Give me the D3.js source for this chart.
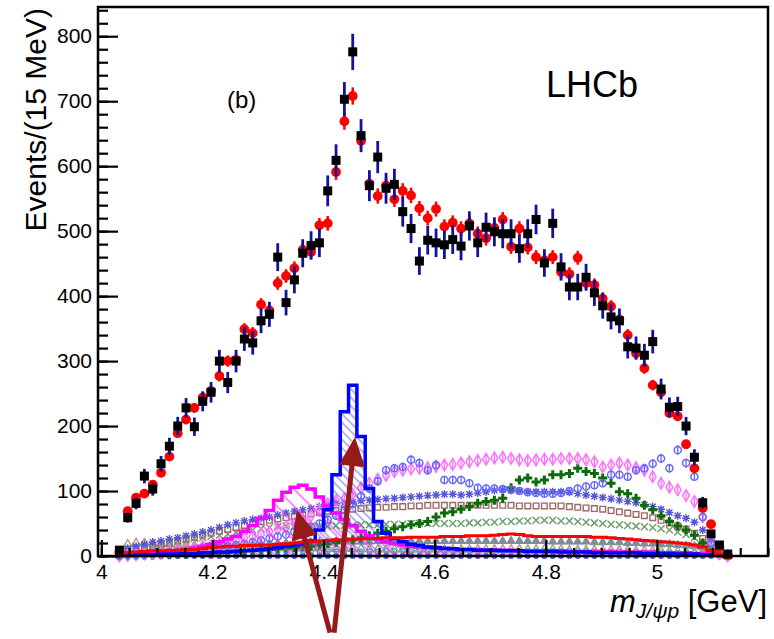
<!DOCTYPE html>
<html>
<head>
<meta charset="utf-8">
<script src="https://cdn.jsdelivr.net/npm/d3@7"></script>
<style>
  body { margin: 0; background: #fff; }
  svg { display: block; font-family: "Liberation Sans", Arial, sans-serif; }
</style>
</head>
<body>
<svg width="774" height="639"></svg>
<script>
// m(J/psi p) in 15 MeV bins, first bin centre 4.0325 GeV
const nBins = 74;
const binCentres = d3.range(nBins).map(k => 4.0325 + 0.015 * k);
const binWidth = 0.015;

const dataCounts = [
  9, 59, 81, 123, 103, 142, 169, 200, 228, 199,
  238, 252, 300, 267, 300, 334, 328, 362, 372, 460,
  390, 425, 466, 478, 482, 562, 609, 703, 776, 647,
  570, 614, 566, 572, 530, 504, 454, 486, 482, 479,
  487, 477, 508, 482, 506, 499, 496, 496, 473, 496,
  518, 451, 512, 445, 414, 414, 429, 405, 385, 368,
  362, 322, 320, 309, 330, 257, 229, 230, 200, 152,
  82, 34, 17, 3
];
const fitCounts = [
  6, 69, 90, 96, 110, 128, 153, 189, 210, 228,
  244, 254, 277, 300, 302, 349, 343, 387, 378, 420,
  431, 443, 471, 468, 509, 512, 591, 669, 708, 639,
  573, 554, 570, 549, 562, 555, 535, 520, 534, 507,
  513, 504, 512, 496, 489, 505, 518, 476, 504, 475,
  460, 455, 460, 437, 434, 459, 420, 417, 396, 384,
  364, 340, 312, 289, 263, 252, 220, 215, 172, 135,
  74, 49, 14, 2
];
const pc4450 = [
  1, 1, 2, 2, 2, 3, 3, 3, 4, 4,
  5, 5, 6, 6, 7, 8, 9, 10, 11, 13,
  15, 17, 19, 23, 40, 71, 125, 222, 263, 184,
  104, 53, 35, 27, 22, 18, 16, 14, 13, 12,
  11, 10, 10, 9, 9, 9, 8, 8, 8, 7,
  7, 7, 7, 6, 6, 6, 6, 5, 5, 5,
  5, 5, 5, 4, 4, 4, 4, 3, 3, 3,
  2, 2, 1, 0
];
const pc4380 = [
  1, 2, 3, 4, 5, 6, 7, 8, 10, 12,
  15, 18, 22, 26, 30, 38, 47, 58, 70, 86,
  98, 106, 109, 103, 91, 77, 66, 56, 47, 38,
  31, 26, 22, 19, 17, 15, 14, 13, 12, 11,
  11, 10, 10, 10, 9, 9, 9, 9, 8, 8,
  8, 8, 8, 8, 7, 7, 7, 7, 7, 7,
  6, 6, 6, 6, 6, 5, 5, 5, 5, 4,
  4, 3, 2, 1
];
const background = [
  3, 5, 6, 7, 8, 8, 9, 9, 10, 10,
  11, 13, 14, 15, 15, 16, 16, 17, 17, 18,
  19, 20, 21, 22, 23, 24, 25, 25, 26, 26,
  27, 27, 28, 28, 28, 29, 29, 29, 29, 30,
  30, 30, 31, 31, 31, 32, 33, 34, 33, 31,
  30, 30, 30, 30, 30, 30, 30, 29, 29, 28,
  27, 26, 25, 24, 23, 22, 21, 20, 19, 17,
  14, 8, 3, 1
];
const lamDiamonds = [
  0, 1, 2, 3, 4, 5, 7, 8, 10, 12,
  14, 16, 18, 21, 24, 27, 30, 33, 37, 41,
  45, 50, 55, 62, 70, 80, 85, 88, 95, 105,
  112, 118, 124, 130, 132, 134, 135, 136, 138, 140,
  141, 143, 145, 147, 149, 151, 152, 150, 148, 147,
  148, 149, 149, 150, 150, 150, 148, 145, 137, 140,
  143, 140, 136, 132, 122, 112, 106, 102, 93, 84,
  60, 22, 4, 0
];
const lamCircles = [
  0, 1, 1, 2, 3, 4, 5, 6, 7, 8,
  10, 11, 13, 15, 17, 19, 21, 24, 27, 30,
  33, 37, 41, 45, 50, 56, 62, 70, 80, 92,
  104, 115, 132, 135, 137, 148, 143, 132, 140, 117,
  117, 117, 112, 105, 104, 104, 103, 102, 100, 98,
  97, 96, 96, 97, 100, 104, 107, 109, 112, 125,
  125, 122, 132, 135, 142, 150, 135, 163, 143, 122,
  60, 20, 3, 0
];
const lamCrosses = [
  0, 0, 1, 1, 1, 2, 2, 3, 3, 4,
  4, 5, 5, 6, 7, 8, 8, 9, 10, 11,
  12, 13, 14, 15, 17, 19, 21, 23, 25, 28,
  31, 35, 38, 42, 45, 48, 50, 53, 60, 66,
  68, 72, 76, 81, 84, 86, 89, 105, 117, 120,
  114, 117, 125, 125, 127, 135, 130, 127, 120, 112,
  99, 96, 89, 78, 71, 62, 53, 46, 40, 32,
  20, 8, 2, 0
];
const lamStars = [
  3, 12, 15, 18, 21, 23, 26, 28, 31, 34,
  37, 40, 44, 48, 51, 54, 56, 58, 60, 63,
  66, 69, 71, 73, 76, 79, 81, 82, 83, 85,
  86, 87, 88, 89, 90, 91, 92, 93, 94, 95,
  95, 94, 95, 97, 99, 101, 102, 101, 100, 99,
  99, 99, 99, 99, 98, 96, 94, 92, 90, 88,
  86, 84, 82, 79, 76, 72, 67, 62, 58, 52,
  40, 25, 8, 0
];
const lamSquares = [
  2, 5, 8, 11, 14, 17, 20, 23, 26, 29,
  32, 35, 38, 41, 44, 47, 50, 53, 55, 57,
  59, 61, 63, 65, 67, 69, 70, 71, 72, 73,
  74, 75, 75, 76, 76, 77, 77, 78, 78, 78,
  78, 78, 78, 78, 78, 78, 78, 78, 77, 77,
  77, 77, 77, 77, 76, 75, 74, 73, 72, 70,
  68, 66, 64, 62, 59, 55, 51, 46, 41, 35,
  27, 18, 6, 0
];
const lamTimes = [
  2, 10, 13, 15, 17, 19, 21, 23, 25, 27,
  28, 30, 32, 34, 36, 38, 40, 42, 44, 45,
  46, 46, 46, 46, 46, 46, 47, 47, 47, 48,
  48, 48, 49, 49, 49, 50, 50, 50, 50, 50,
  50, 50, 51, 51, 52, 52, 53, 53, 54, 54,
  55, 55, 55, 54, 54, 53, 52, 51, 50, 49,
  48, 47, 46, 45, 44, 42, 40, 37, 33, 28,
  21, 12, 3, 0
];
const lamTriangles = [
  1, 4, 6, 8, 9, 10, 11, 12, 13, 14,
  15, 15, 16, 16, 17, 17, 18, 18, 19, 19,
  20, 20, 20, 21, 21, 21, 22, 22, 22, 22,
  22, 23, 23, 23, 23, 23, 23, 23, 23, 23,
  23, 23, 23, 23, 23, 23, 23, 23, 23, 23,
  23, 23, 22, 22, 22, 22, 22, 21, 21, 21,
  21, 20, 20, 19, 19, 18, 18, 17, 16, 15,
  13, 10, 5, 0
];
const lamOpenTriangles = [
  5, 18, 20, 20, 19, 18, 18, 17, 17, 16,
  16, 15, 15, 15, 14, 14, 14, 13, 13, 13,
  13, 12, 12, 12, 12, 11, 11, 11, 11, 11,
  10, 10, 10, 10, 10, 10, 10, 10, 10, 10,
  10, 10, 10, 10, 10, 10, 10, 10, 10, 10,
  10, 10, 10, 10, 9, 9, 9, 9, 9, 9,
  9, 9, 8, 8, 8, 8, 7, 7, 7, 6,
  5, 4, 2, 0
];
const lamCyan = [
  1, 2, 2, 3, 3, 3, 4, 4, 4, 5,
  5, 5, 5, 6, 6, 6, 6, 6, 7, 7,
  7, 7, 7, 7, 7, 7, 7, 7, 7, 7,
  7, 7, 8, 8, 8, 8, 8, 8, 8, 8,
  8, 8, 8, 8, 8, 8, 8, 8, 8, 8,
  8, 8, 8, 8, 8, 8, 8, 7, 7, 7,
  7, 7, 7, 6, 6, 6, 6, 5, 5, 5,
  4, 3, 2, 0
];
const lamPurple = [
  0, 1, 1, 1, 1, 1, 1, 1, 1, 1,
  1, 1, 1, 1, 1, 1, 1, 1, 1, 1,
  1, 1, 1, 1, 1, 1, 1, 1, 1, 1,
  1, 1, 1, 1, 1, 1, 1, 1, 1, 1,
  1, 1, 1, 1, 1, 1, 1, 1, 1, 1,
  1, 1, 1, 1, 1, 1, 1, 1, 1, 1,
  1, 1, 1, 1, 1, 1, 1, 1, 1, 1,
  1, 1, 0, 0
];
const lamBlueDots = [
  0, 0, 0, 0, 0, 0, 0, 0, 0, 0,
  0, 0, 0, 0, 0, 0, 0, 0, 0, 0,
  0, 0, 0, 0, 0, 0, 0, 0, 0, 0,
  0, 0, 0, 0, 0, 0, 0, 0, 0, 0,
  0, 0, 0, 0, 0, 0, 0, 0, 0, 0,
  0, 0, 0, 0, 0, 0, 0, 0, 0, 0,
  0, 0, 0, 0, 0, 0, 0, 0, 0, 0,
  0, 0, 0, 0
];

const xMajor = [4.0, 4.2, 4.4, 4.6, 4.8, 5.0];
const xTickLabels = ["4", "4.2", "4.4", "4.6", "4.8", "5"];
const xMinor = d3.range(4.0, 5.2001, 0.05);
const yMajor = [0, 100, 200, 300, 400, 500, 600, 700, 800];
const yMinor = d3.range(0, 841, 20);

// arrows pointing at the two Pc states (data coords: tail -> tip)
const arrows = [
  { tail: [4.4116, -118], tip: [4.352, 71] },
  { tail: [4.419, -118], tip: [4.4566, 183] }
];

const svg = d3.select('svg');
const margin = { left: 98, right: 6, top: 7, bottom: 83 };
const width = +svg.attr('width');
const height = +svg.attr('height');

const x = d3.scaleLinear().domain([3.994, 5.2]).range([margin.left, width - margin.right]);
const y = d3.scaleLinear().domain([0, 845]).range([height - margin.bottom, margin.top]);

const defs = svg.append('defs');
defs.append('clipPath').attr('id', 'plotClip')
  .append('rect')
  .attr('x', margin.left).attr('y', margin.top)
  .attr('width', width - margin.left - margin.right)
  .attr('height', height - margin.top - margin.bottom + 8);

function hatch(id, color, gap, sw) {
  const p = defs.append('pattern').attr('id', id)
    .attr('patternUnits', 'userSpaceOnUse')
    .attr('width', gap).attr('height', gap)
    .attr('patternTransform', 'rotate(45)');
  p.append('line').attr('x1', 0).attr('x2', gap).attr('y1', gap / 2).attr('y2', gap / 2)
    .attr('stroke', color).attr('stroke-width', sw);
}
hatch('hatchBlue', '#5a5ad8', 6, 0.9);
hatch('hatchMag', '#ff33ff', 12, 1.2);

const plot = svg.append('g').attr('clip-path', 'url(#plotClip)');

// step histogram helpers
const stepPts = vals => {
  const pts = vals.map((v, i) => [binCentres[i] - binWidth / 2, v]);
  pts.push([binCentres[vals.length - 1] + binWidth / 2, vals[vals.length - 1]]);
  return pts;
};
const stepLine = d3.line().x(d => x(d[0])).y(d => y(d[1])).curve(d3.curveStepAfter);
const stepArea = d3.area().x(d => x(d[0])).y0(y(0)).y1(d => y(d[1])).curve(d3.curveStepAfter);

// marker shapes
const shapes = {
  diamond: d3.symbol().type(d3.symbolDiamond).size(40)(),
  circle: d3.symbol().type(d3.symbolCircle).size(40)(),
  smallCircle: d3.symbol().type(d3.symbolCircle).size(16)(),
  square: d3.symbol().type(d3.symbolSquare).size(32)(),
  triangle: d3.symbol().type(d3.symbolTriangle).size(30)(),
  plus: 'M-4.5,0H4.5M0,-4.5V4.5',
  star: 'M-4,0H4M0,-4V4M-3,-3L3,3M-3,3L3,-3',
  times: 'M-3.5,-3.5L3.5,3.5M-3.5,3.5L3.5,-3.5'
};

const markerSeries = [
  { vals: lamBlueDots, shape: 'smallCircle', color: '#2e2eff', fill: 'none', sw: 1.2 },
  { vals: lamPurple, shape: 'smallCircle', color: '#8a2be2', fill: '#8a2be2', sw: 1 },
  { vals: lamCyan, shape: 'smallCircle', color: '#17c3c3', fill: 'none', sw: 1.2 },
  { vals: lamOpenTriangles, shape: 'triangle', color: '#b88e7e', fill: 'none', sw: 1.3 },
  { vals: lamTriangles, shape: 'triangle', color: '#7f8c99', fill: '#7f8c99', sw: 1 },
  { vals: lamTimes, shape: 'times', color: '#6f9f6f', fill: 'none', sw: 1.5 },
  { vals: lamSquares, shape: 'square', color: '#9c6b66', fill: 'none', sw: 1.4 },
  { vals: lamStars, shape: 'star', color: '#5656d6', fill: 'none', sw: 1.4 },
  { vals: lamCrosses, shape: 'plus', color: '#0b6b0b', fill: 'none', sw: 3 },
  { vals: lamDiamonds, shape: 'diamond', color: '#ff6dff', fill: 'none', sw: 1.4, err: true },
  { vals: lamCircles, shape: 'circle', color: '#6565ff', fill: 'none', sw: 1.4, err: true }
];

markerSeries.forEach(s => {
  const g = plot.append('g');
  if (s.err) {
    g.selectAll('line').data(s.vals).enter().append('line')
      .attr('x1', (d, i) => x(binCentres[i])).attr('x2', (d, i) => x(binCentres[i]))
      .attr('y1', d => y(d + 0.6 * Math.sqrt(d))).attr('y2', d => y(Math.max(0, d - 0.6 * Math.sqrt(d))))
      .attr('stroke', s.color).attr('stroke-width', 1.3);
  }
  g.selectAll('path').data(s.vals).enter().append('path')
    .attr('d', shapes[s.shape])
    .attr('transform', (d, i) => `translate(${x(binCentres[i])},${y(d)})`)
    .attr('fill', s.fill).attr('stroke', s.color).attr('stroke-width', s.sw);
});

// Pc(4380) and Pc(4450) hatched histograms
[[pc4380, 'url(#hatchMag)', '#ff00ff'], [pc4450, 'url(#hatchBlue)', '#0000ff']].forEach(([vals, pat, col]) => {
  plot.append('path').attr('d', stepArea(stepPts(vals))).attr('fill', pat);
  plot.append('path').attr('d', stepLine(stepPts(vals)))
    .attr('fill', 'none').attr('stroke', col).attr('stroke-width', 3.5);
});

// background
plot.append('path').attr('d', stepLine(stepPts(background)))
  .attr('fill', 'none').attr('stroke', '#ff0000').attr('stroke-width', 3);

// fit points
const fitG = plot.append('g');
fitG.selectAll('line').data(fitCounts).enter().append('line')
  .attr('x1', (d, i) => x(binCentres[i])).attr('x2', (d, i) => x(binCentres[i]))
  .attr('y1', d => y(d + 0.5 * Math.sqrt(d))).attr('y2', d => y(Math.max(0, d - 0.5 * Math.sqrt(d))))
  .attr('stroke', '#ff0000').attr('stroke-width', 2.5);
fitG.selectAll('circle').data(fitCounts).enter().append('circle')
  .attr('cx', (d, i) => x(binCentres[i])).attr('cy', d => y(d))
  .attr('r', 4.9).attr('fill', '#ff0000');

// data points
const dataG = plot.append('g');
dataG.selectAll('line').data(dataCounts).enter().append('line')
  .attr('x1', (d, i) => x(binCentres[i])).attr('x2', (d, i) => x(binCentres[i]))
  .attr('y1', d => y(d + Math.sqrt(d))).attr('y2', d => y(Math.max(0, d - Math.sqrt(d))))
  .attr('stroke', '#12129c').attr('stroke-width', 2.8);
dataG.selectAll('rect').data(dataCounts).enter().append('rect')
  .attr('x', (d, i) => x(binCentres[i]) - 4.5).attr('y', d => y(d) - 4.5)
  .attr('width', 9).attr('height', 9).attr('fill', '#000');

// axes
const xAxisG = svg.append('g').attr('transform', `translate(0,${y(0)})`)
  .call(d3.axisBottom(x).tickValues(xMajor).tickFormat((d, i) => xTickLabels[i])
    .tickSizeInner(-16).tickSizeOuter(0).tickPadding(8));
svg.append('g').attr('transform', `translate(0,${y(0)})`)
  .call(d3.axisBottom(x).tickValues(xMinor).tickFormat('').tickSizeInner(-8).tickSizeOuter(0));
const yAxisG = svg.append('g').attr('transform', `translate(${x.range()[0]},0)`)
  .call(d3.axisLeft(y).tickValues(yMajor).tickSizeInner(-20).tickSizeOuter(0).tickPadding(6));
svg.append('g').attr('transform', `translate(${x.range()[0]},0)`)
  .call(d3.axisLeft(y).tickValues(yMinor).tickFormat('').tickSizeInner(-10).tickSizeOuter(0));

svg.selectAll('.domain').remove();
svg.selectAll('.tick line').attr('stroke', '#000').attr('stroke-width', 2.2);
svg.selectAll('.tick text').attr('font-family', '"Liberation Sans", Arial, sans-serif')
  .attr('font-size', 21).attr('fill', '#000');
xAxisG.selectAll('.tick text').attr('dy', '0.71em');

// frame
svg.append('rect')
  .attr('x', x.range()[0]).attr('y', y.range()[1])
  .attr('width', x.range()[1] - x.range()[0]).attr('height', y.range()[0] - y.range()[1])
  .attr('fill', 'none').attr('stroke', '#000').attr('stroke-width', 2.5);

// titles
svg.append('text')
  .attr('transform', `translate(46,8) rotate(-90)`)
  .attr('text-anchor', 'end').attr('font-size', 30).text('Events/(15 MeV)');

const xt = svg.append('text').attr('x', 767).attr('y', 612)
  .attr('text-anchor', 'end').attr('font-size', 31);
xt.append('tspan').attr('font-style', 'italic').text('m');
xt.append('tspan').attr('font-style', 'italic').attr('font-size', 21).attr('dy', 6).text('J/ψp');
xt.append('tspan').attr('dy', -6).text(' [GeV]');

svg.append('text').attr('x', 227).attr('y', 108).attr('font-size', 24).text('(b)');
svg.append('text').attr('x', 546).attr('y', 97).attr('font-size', 36).text('LHCb');

// annotation arrows
const arrowCol = '#971a1a';
arrows.forEach(a => {
  const x0 = x(a.tail[0]), y0 = y(a.tail[1]);
  const x1 = x(a.tip[0]), y1 = y(a.tip[1]);
  const len = Math.hypot(x1 - x0, y1 - y0);
  const ux = (x1 - x0) / len, uy = (y1 - y0) / len;
  const headL = 29, headW = 13;
  const bx = x1 - ux * headL, by = y1 - uy * headL;
  svg.append('line').attr('x1', x0).attr('y1', y0).attr('x2', bx + ux * 2).attr('y2', by + uy * 2)
    .attr('stroke', arrowCol).attr('stroke-width', 5);
  svg.append('path')
    .attr('d', `M${x1},${y1}L${bx - uy * headW},${by + ux * headW}L${bx + uy * headW},${by - ux * headW}Z`)
    .attr('fill', arrowCol);
});
</script>
</body>
</html>
